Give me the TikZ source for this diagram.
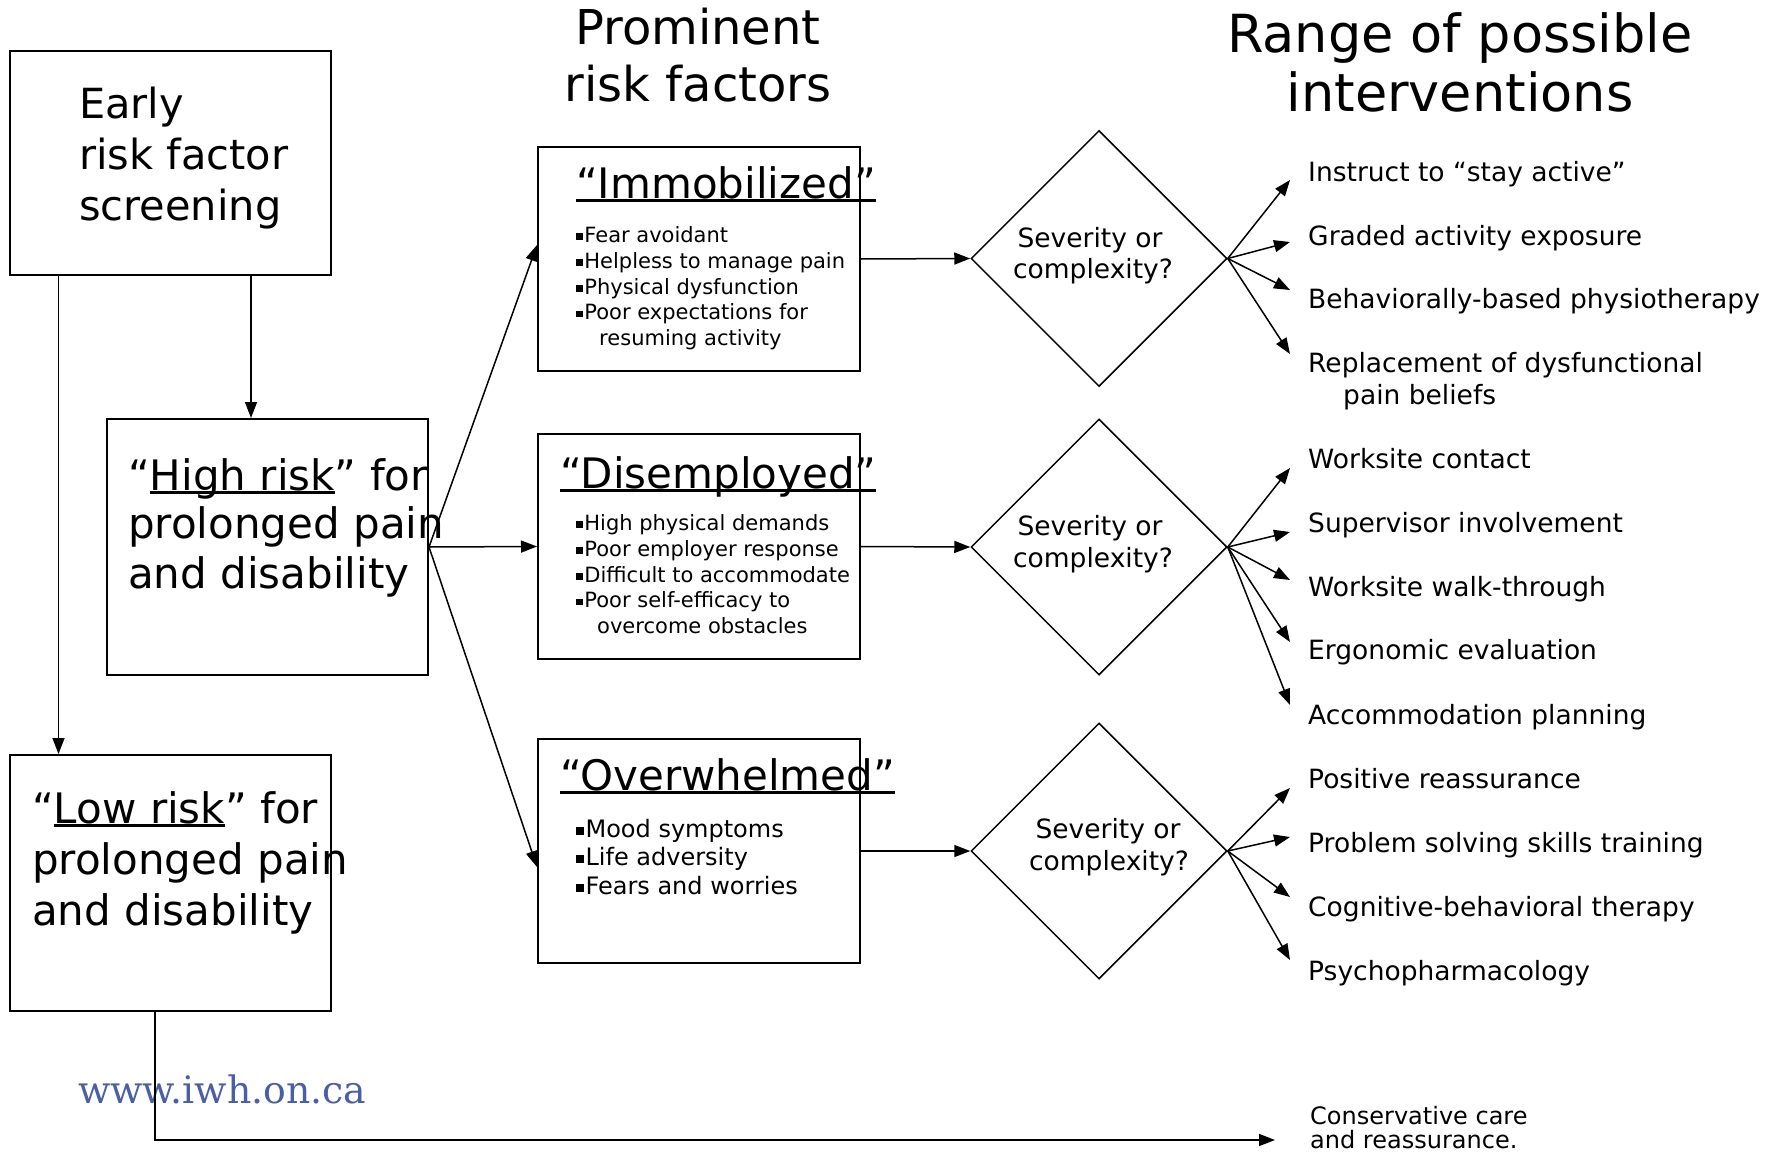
\documentclass[tikz,border=0pt]{standalone}
\usepackage{fontspec}
\setmainfont{DejaVu Sans}
\newfontfamily\wwwfont{DejaVu Serif}
\usetikzlibrary{shapes.geometric,arrows.meta}
\newsavebox\ulbox
\newcommand\myul[1]{\sbox\ulbox{#1}\rlap{\rule[-0.1em]{\wd\ulbox}{0.08em}}\usebox\ulbox}
\newcommand\bul{\rule[0.1em]{0.32em}{0.32em}\hspace{0.07em}}
\definecolor{wwwblue}{HTML}{4A5EA6}
\begin{document}
\begin{tikzpicture}[x=1pt,y=-1pt,
  box/.style={draw, line width=2pt, inner sep=0pt},
  dia/.style={draw, diamond, line width=1.5pt, inner sep=0pt, minimum width=256pt, minimum height=256pt},
  arr/.style={line width=1.5pt, -{Triangle[length=16pt,width=12pt]}},
  txt/.style={inner sep=0pt, anchor=base west},
  big/.style={txt, font=\fontsize{42}{50}\selectfont},
  hdA/.style={inner sep=0pt, anchor=base, font=\fontsize{48}{57}\selectfont},
  hdB/.style={inner sep=0pt, anchor=base, font=\fontsize{52.5}{60}\selectfont},
  sm/.style={txt, font=\fontsize{21}{25}\selectfont},
  md/.style={txt, font=\fontsize{24}{28}\selectfont},
  iv/.style={txt, font=\fontsize{26.5}{31}\selectfont},
  dq/.style={inner sep=0pt, anchor=base, font=\fontsize{26.5}{31}\selectfont},
]
\useasboundingbox (0,0) rectangle (1776,1153);

% headers
\node[hdA] (hA1) at (698,45) {Prominent};
\node[hdA] (hA2) at (698,102) {risk factors};
\node[hdB] (hB1) at (1460,53) {Range of possible};
\node[hdB] (hB2) at (1460,112) {interventions};

% left boxes
\node[box, minimum width=321pt, minimum height=224pt] (early) at (170.5,163) {};
\node[big, font=\fontsize{41.5}{50}\selectfont] (e1) at (79,118) {Early};
\node[big, font=\fontsize{41.5}{50}\selectfont] (e2) at (79,169) {risk factor};
\node[big, font=\fontsize{41.5}{50}\selectfont] (e3) at (79,220) {screening};

\node[box, minimum width=321pt, minimum height=256pt] (high) at (267.5,547) {};
\node[big] (h1) at (128,490) {“\myul{High risk}” for};
\node[big] (h2) at (128,538) {prolonged pain};
\node[big] (h3) at (128,588) {and disability};

\node[box, minimum width=321pt, minimum height=256pt] (low) at (170.5,883) {};
\node[big] (l1) at (32,823) {“\myul{Low risk}” for};
\node[big] (l2) at (32,874) {prolonged pain};
\node[big] (l3) at (32,925) {and disability};

% middle boxes
\node[box, minimum width=322pt, minimum height=224pt] (immob) at (699,259) {};
\node[big] (t1) at (576,198) {\myul{“Immobilized”}};
\node[sm] (b11) at (576,242) {\bul Fear avoidant};
\node[sm] (b12) at (576,268) {\bul Helpless to manage pain};
\node[sm] (b13) at (576,294) {\bul Physical dysfunction};
\node[sm] (b14) at (576,319.5) {\bul Poor expectations for};
\node[sm] (b15) at (599,345) {resuming activity};

\node[box, minimum width=322pt, minimum height=225pt] (dis) at (699,546.5) {};
\node[big] (t2) at (560,488) {\myul{“Disemployed”}};
\node[sm] (b21) at (576,530) {\bul High physical demands};
\node[sm] (b22) at (576,556) {\bul Poor employer response};
\node[sm] (b23) at (576,582) {\bul Difficult to accommodate};
\node[sm] (b24) at (576,607.5) {\bul Poor self-efficacy to};
\node[sm] (b25) at (597,633) {overcome obstacles};

\node[box, minimum width=322pt, minimum height=224pt] (over) at (699,851) {};
\node[big] (t3) at (560,790) {\myul{“Overwhelmed”}};
\node[md] (b31) at (576,837) {\bul Mood symptoms};
\node[md] (b32) at (576,865) {\bul Life adversity};
\node[md] (b33) at (576,894) {\bul Fears and worries};

% diamonds
\node[dia] (d1) at (1099,258.5) {};
\node[dq] (q11) at (1090,247) {Severity or};
\node[dq] (q12) at (1093,278) {complexity?};
\node[dia] (d2) at (1099,547) {};
\node[dq] (q21) at (1090,535) {Severity or};
\node[dq] (q22) at (1093,567) {complexity?};
\node[dia] (d3) at (1099,851) {};
\node[dq] (q31) at (1108,838) {Severity or};
\node[dq] (q32) at (1109,870) {complexity?};

% interventions
\node[iv] (i11) at (1308,181) {Instruct to “stay active”};
\node[iv] (i12) at (1308,245) {Graded activity exposure};
\node[iv] (i13) at (1308,308) {Behaviorally-based physiotherapy};
\node[iv] (i14) at (1308,372) {Replacement of dysfunctional};
\node[iv] (i15) at (1343,404) {pain beliefs};
\node[iv] (i21) at (1308,468) {Worksite contact};
\node[iv] (i22) at (1308,532) {Supervisor involvement};
\node[iv] (i23) at (1308,596) {Worksite walk-through};
\node[iv] (i24) at (1308,659) {Ergonomic evaluation};
\node[iv] (i25) at (1308,724) {Accommodation planning};
\node[iv] (i31) at (1308,788) {Positive reassurance};
\node[iv] (i32) at (1308,852) {Problem solving skills training};
\node[iv] (i33) at (1308,916) {Cognitive-behavioral therapy};
\node[iv] (i34) at (1308,980) {Psychopharmacology};
\node[md] (c1) at (1310,1124) {Conservative care};
\node[md] (c2) at (1310,1148) {and reassurance.};

\node[txt, font=\wwwfont\fontsize{37.8}{40}\selectfont, text=wwwblue] (www) at (78,1103) {www.iwh.on.ca};

% connectors
\draw[arr] ([xshift=80.5pt]early.south) -- ([xshift=-16.5pt]high.north);
\draw[arr] ([xshift=-112pt]early.south) -- ([xshift=-112pt]low.north);
\draw[arr] (high.east) -- ([yshift=14pt]immob.west);
\draw[arr] (high.east) -- (dis.west);
\draw[arr] (high.east) -- ([yshift=-16pt]over.west);
\draw[arr] (immob.east) -- (d1.west);
\draw[arr] (dis.east) -- (d2.west);
\draw[arr] (over.east) -- (d3.west);

\draw[arr] (d1.east) -- ([xshift=-18pt,yshift=1pt]i11.base west);
\draw[arr] (d1.east) -- ([xshift=-18pt,yshift=3pt]i12.base west);
\draw[arr] (d1.east) -- ([xshift=-18pt,yshift=18pt]i13.base west);
\draw[arr] (d1.east) -- ([xshift=-18pt,yshift=18pt]i14.base west);

\draw[arr] (d2.east) -- ([xshift=-18pt,yshift=0pt]i21.base west);
\draw[arr] (d2.east) -- ([xshift=-18pt,yshift=0pt]i22.base west);
\draw[arr] (d2.east) -- ([xshift=-18pt,yshift=16pt]i23.base west);
\draw[arr] (d2.east) -- ([xshift=-18pt,yshift=17pt]i24.base west);
\draw[arr] (d2.east) -- ([xshift=-18pt,yshift=19pt]i25.base west);

\draw[arr] (d3.east) -- ([xshift=-18pt,yshift=0pt]i31.base west);
\draw[arr] (d3.east) -- ([xshift=-18pt,yshift=15pt]i32.base west);
\draw[arr] (d3.east) -- ([xshift=-18pt,yshift=19pt]i33.base west);
\draw[arr] (d3.east) -- ([xshift=-18pt,yshift=20pt]i34.base west);

\coordinate (ctip) at (1275,1140);
\draw[arr] ([xshift=-15.5pt]low.south) |- (ctip);
\end{tikzpicture}
\end{document}
